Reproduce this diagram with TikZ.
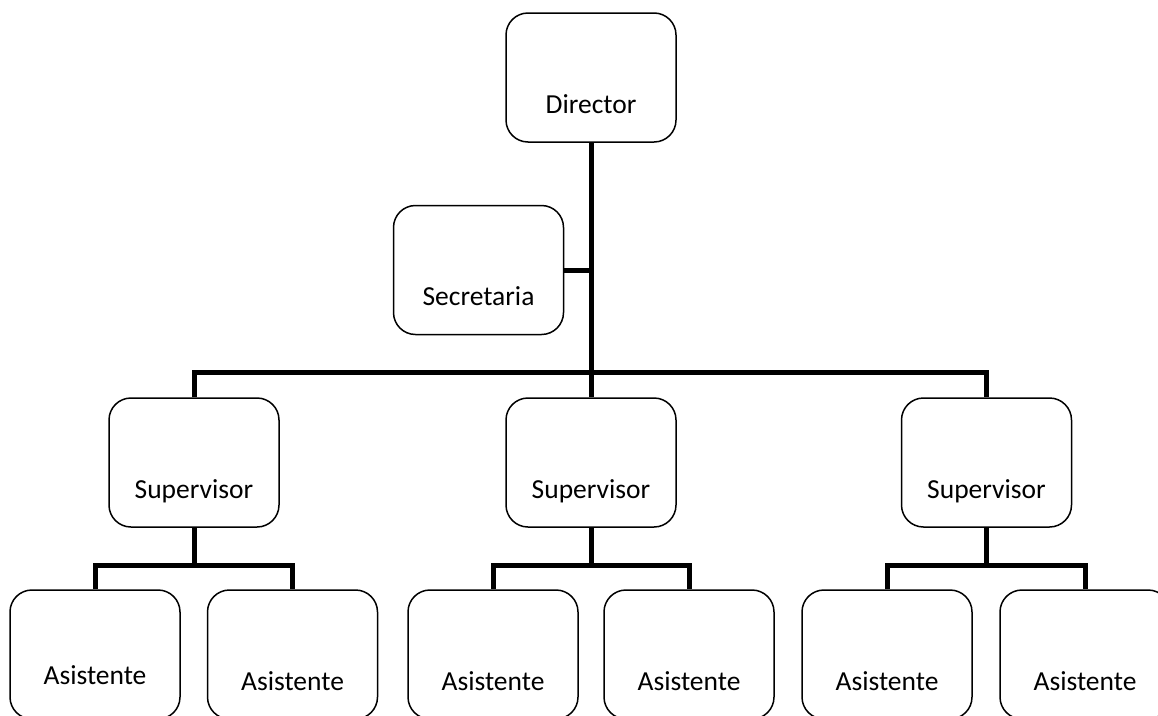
\documentclass[tikz,border=0pt]{standalone}
\usepackage{fontspec}
\setmainfont{Carlito}
\begin{document}
\begin{tikzpicture}[x=1pt,y=-1pt,
  box/.style={draw=black, line width=1.5pt, rounded corners=22pt,
    minimum width=170pt, minimum height=129pt, inner sep=0pt,
    text height=80pt, text depth=9pt,
    font=\fontsize{27.5}{33}\selectfont},
  boxhi/.style={box, text height=68pt},
  conn/.style={draw=black, line width=5pt}]
\useasboundingbox (0,0) rectangle (1158,715);
\clip (0,0) rectangle (1158,715);
% nodes
\node[box] (dir) at (591,77.5) {Director};
\node[box] (sec) at (478.5,270) {Secretaria};
\node[box] (sup1) at (194,462.5) {Supervisor};
\node[box] (sup2) at (591,462.5) {Supervisor};
\node[box] (sup3) at (986.5,462.5) {Supervisor};
\node[boxhi] (as1) at (95,654.5) {Asistente};
\node[box] (as2) at (292.5,654.5) {Asistente};
\node[box] (as3) at (493,654.5) {Asistente};
\node[box] (as4) at (689,654.5) {Asistente};
\node[box] (as5) at (887,654.5) {Asistente};
\node[box] (as6) at (1085,654.5) {Asistente};
% connectors
\draw[conn] (dir.south) -- (sup2.north);
\draw[conn] (sec.east) -- (sec.east -| dir.south);
\draw[conn] (sup1.north) -- ++(0,-25) -| (sup3.north);
\draw[conn] (sup1.south) -- ++(0,38) coordinate (b1);
\draw[conn] (as1.north) |- (b1) -| (as2.north);
\draw[conn] (sup2.south) -- ++(0,38) coordinate (b2);
\draw[conn] (as3.north) |- (b2) -| (as4.north);
\draw[conn] (sup3.south) -- ++(0,38) coordinate (b3);
\draw[conn] (as5.north) |- (b3) -| (as6.north);
\end{tikzpicture}
\end{document}
